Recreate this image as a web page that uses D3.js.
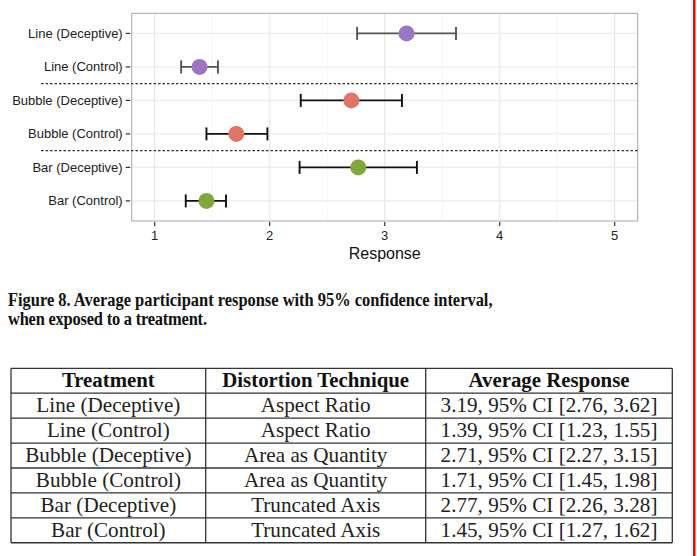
<!DOCTYPE html>
<html><head><meta charset="utf-8">
<script src="https://cdn.jsdelivr.net/npm/d3@7/dist/d3.min.js"></script>
<style>
body{margin:0;background:#fff;}
svg{display:block;}
</style></head>
<body>
<svg id="c" width="697" height="556"></svg>
<script>
const categories = ["Line (Deceptive)","Line (Control)","Bubble (Deceptive)","Bubble (Control)","Bar (Deceptive)","Bar (Control)"];
const means = [3.19,1.39,2.71,1.71,2.77,1.45];
const lows  = [2.76,1.23,2.27,1.45,2.26,1.27];
const highs = [3.62,1.55,3.15,1.98,3.28,1.62];
const groups = ["Line","Line","Bubble","Bubble","Bar","Bar"];
const xTicks = [1,2,3,4,5];
const separators = [2.5,4.5];
const techniques = ["Aspect Ratio","Aspect Ratio","Area as Quantity","Area as Quantity","Truncated Axis","Truncated Axis"];
const headers = ["Treatment","Distortion Technique","Average Response"];
const caption = ["Figure 8.  Average participant response with 95% confidence interval,","when exposed to a treatment."];

const svg = d3.select("#c");
const L=131.7, R=637.7, T=13.3, B=221;
const x = d3.scaleLinear().domain([0.8,5.2]).range([L,R]);
const yPos = d3.scaleLinear().domain([0.4,6.6]).range([T,B]);
const color = d3.scaleOrdinal().domain(["Line","Bubble","Bar"]).range(["#9b77c3","#e0756a","#7fa83a"]);
const barColor = d3.scaleOrdinal().domain(["Line","Bubble","Bar"]).range(["#555555","#111111","#111111"]);
const sans = "Liberation Sans, Arial, sans-serif";
const serif = "Liberation Serif, Times New Roman, serif";

const g = svg.append("g");
const minor = d3.range(1.5,5,1);
g.selectAll(".minor").data(minor).join("line")
 .attr("x1",d=>x(d)).attr("x2",d=>x(d)).attr("y1",T).attr("y2",B)
 .attr("stroke","#f3f3f3").attr("stroke-width",0.8);
g.selectAll(".major").data(xTicks).join("line")
 .attr("x1",d=>x(d)).attr("x2",d=>x(d)).attr("y1",T).attr("y2",B)
 .attr("stroke","#e6e6e6").attr("stroke-width",1.1);
g.selectAll(".hg").data(categories).join("line")
 .attr("x1",L).attr("x2",R).attr("y1",(d,i)=>yPos(i+1)).attr("y2",(d,i)=>yPos(i+1))
 .attr("stroke","#ececec").attr("stroke-width",1.1);
g.append("rect").attr("x",L).attr("y",T).attr("width",R-L).attr("height",B-T)
 .attr("fill","none").attr("stroke","#a8a8a8").attr("stroke-width",1);

g.selectAll(".sep").data(separators).join("line")
 .attr("x1",41).attr("x2",R).attr("y1",d=>yPos(d)).attr("y2",d=>yPos(d))
 .attr("stroke","#333").attr("stroke-width",1.1).attr("stroke-dasharray","2.5,2");

const eb = g.selectAll(".eb").data(categories).join("g");
eb.append("line").attr("x1",(d,i)=>x(lows[i])).attr("x2",(d,i)=>x(highs[i]))
 .attr("y1",(d,i)=>yPos(i+1)).attr("y2",(d,i)=>yPos(i+1))
 .attr("stroke",(d,i)=>barColor(groups[i])).attr("stroke-width",1.9);
eb.append("line").attr("x1",(d,i)=>x(lows[i])).attr("x2",(d,i)=>x(lows[i]))
 .attr("y1",(d,i)=>yPos(i+1)-6.5).attr("y2",(d,i)=>yPos(i+1)+6.5)
 .attr("stroke",(d,i)=>barColor(groups[i])).attr("stroke-width",1.9);
eb.append("line").attr("x1",(d,i)=>x(highs[i])).attr("x2",(d,i)=>x(highs[i]))
 .attr("y1",(d,i)=>yPos(i+1)-6.5).attr("y2",(d,i)=>yPos(i+1)+6.5)
 .attr("stroke",(d,i)=>barColor(groups[i])).attr("stroke-width",1.9);
eb.append("circle").attr("cx",(d,i)=>x(means[i])).attr("cy",(d,i)=>yPos(i+1))
 .attr("r",8).attr("fill",(d,i)=>color(groups[i]));

const ya = g.append("g");
ya.selectAll("line").data(categories).join("line")
 .attr("x1",L-6).attr("x2",L-1.5).attr("y1",(d,i)=>yPos(i+1)).attr("y2",(d,i)=>yPos(i+1))
 .attr("stroke","#333").attr("stroke-width",1.2);
ya.selectAll("text").data(categories).join("text")
 .attr("x",L-9).attr("y",(d,i)=>yPos(i+1)).attr("dy","0.35em")
 .attr("text-anchor","end").attr("font-family",sans)
 .attr("font-size",13).attr("fill","#222").text(d=>d);

const xa = g.append("g");
xa.selectAll("line").data(xTicks).join("line")
 .attr("x1",d=>x(d)).attr("x2",d=>x(d)).attr("y1",B+1).attr("y2",B+5)
 .attr("stroke","#333").attr("stroke-width",1.2);
xa.selectAll("text").data(xTicks).join("text")
 .attr("x",d=>x(d)).attr("y",235).attr("dy","0.35em")
 .attr("text-anchor","middle").attr("font-family",sans)
 .attr("font-size",13).attr("fill","#222").text(d=>d);
g.append("text").attr("x",(L+R)/2).attr("y",253).attr("dy","0.35em")
 .attr("text-anchor","middle").attr("font-family",sans)
 .attr("font-size",16).attr("fill","#111").text("Response");

// caption: condensed serif bold
const capTargets = [485, 199];
const capG = svg.selectAll(".cap").data(caption).join("text")
 .attr("font-family",serif).attr("font-weight","bold")
 .attr("font-size",19).attr("fill","#111").text(d=>d);
const capNat = capG.nodes()[0].getComputedTextLength();
const capS = Math.min(1, capTargets[0]/capNat);
capG.each(function(d,i){
  const t = d3.select(this);
  t.attr("transform",`translate(8,${305.5+i*19.5}) scale(${capS},1)`);
  if(i===1){ t.attr("textLength",capTargets[1]/capS).attr("lengthAdjust","spacing"); }
});

// table
const colX = [11,205.7,425.7,672.3];
const rowY = d3.range(8).map(i=>368.3+i*24.92);
const tb = svg.append("g");
tb.selectAll(".hl").data(rowY).join("line")
 .attr("x1",colX[0]).attr("x2",colX[3]).attr("y1",d=>d).attr("y2",d=>d)
 .attr("stroke","#333").attr("stroke-width",1.3);
tb.selectAll(".vl").data(colX).join("line")
 .attr("x1",d=>d).attr("x2",d=>d).attr("y1",rowY[0]).attr("y2",rowY[7])
 .attr("stroke","#333").attr("stroke-width",1.3);
const cx = i=>(colX[i]+colX[i+1])/2;
const rows = categories.map((c,i)=>[c,techniques[i],
  `${means[i].toFixed(2)}, 95% CI [${lows[i].toFixed(2)}, ${highs[i].toFixed(2)}]`]);
const tfs = 21;
const probe = tb.append("text").attr("font-family",serif).attr("font-size",tfs).text(categories[0]);
const tS = 144/probe.node().getComputedTextLength();
probe.remove();
const probeB = tb.append("text").attr("font-family",serif).attr("font-weight","bold").attr("font-size",tfs).text(headers[2]);
const hS = 161/probeB.node().getComputedTextLength();
probeB.remove();
tb.selectAll(".hd").data(headers).join("text")
 .attr("transform",(d,i)=>`translate(${cx(i)},${(rowY[0]+rowY[1])/2+6.5}) scale(${hS},1)`)
 .attr("text-anchor","middle").attr("font-family",serif)
 .attr("font-weight","bold").attr("font-size",tfs).attr("fill","#111").text(d=>d);
rows.forEach((r,ri)=>{
  tb.selectAll(".r"+ri).data(r).join("text")
   .attr("transform",(d,i)=>`translate(${cx(i)},${(rowY[ri+1]+rowY[ri+2])/2+6.5}) scale(${tS},1)`)
   .attr("text-anchor","middle").attr("font-family",serif)
   .attr("font-size",tfs).attr("fill","#222").text(d=>d);
});

svg.append("rect").attr("x",693).attr("y",0).attr("width",2.5).attr("height",556).attr("fill","#ff0000");
</script>
</body></html>
